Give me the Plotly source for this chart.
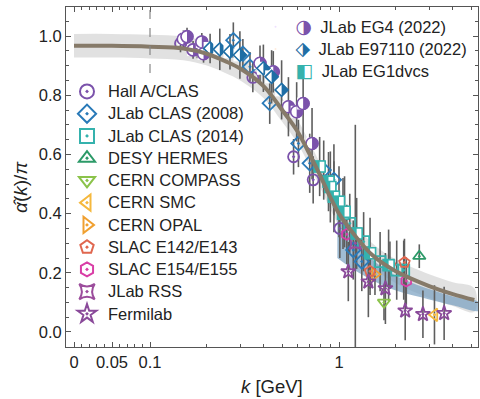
import numpy as np
import plotly.graph_objects as go

# ---------------- data (k in GeV, alpha/pi) ----------------
curve_k = [0.0, 0.05, 0.1, 0.15, 0.2, 0.25, 0.3, 0.4, 0.5, 0.6, 0.7, 0.8, 0.9, 1.0, 1.2, 1.5, 2.0, 3.0, 4.0, 5.2]
curve_v = [0.967, 0.967, 0.964, 0.958, 0.94, 0.915, 0.89, 0.83, 0.75, 0.68, 0.60, 0.525, 0.455, 0.40, 0.33, 0.26, 0.205, 0.155, 0.128, 0.108]
band_halfwidth = 0.04

blue_k = [0.98, 1.2, 1.5, 2.0, 3.0, 4.0, 5.5]
blue_hi = [0.40, 0.31, 0.245, 0.19, 0.145, 0.12, 0.10]
blue_lo = [0.25, 0.21, 0.175, 0.14, 0.11, 0.09, 0.072]

dash_k = 0.1
dash_v_low = 0.875

hall_k = [0.145, 0.178, 0.35, 0.575, 0.73, 1.01]
hall_v = [0.975, 0.955, 0.86, 0.592, 0.514, 0.35]
hall_e = [0.03, 0.03, 0.05, 0.06, 0.08, 0.10]

clas08_k = [0.276, 0.31, 0.338, 0.43, 0.61, 0.70, 0.83, 0.94, 1.19, 1.32]
clas08_v = [0.986, 0.94, 0.896, 0.773, 0.637, 0.57, 0.547, 0.514, 0.277, 0.238]
clas08_e = [0.06, 0.05, 0.05, 0.07, 0.08, 0.10, 0.10, 0.12, 0.10, 0.10]

clas14_k = [1.14, 1.35, 1.65, 2.02, 2.2]
clas14_v = [0.367, 0.305, 0.238, 0.209, 0.209]
clas14_e = [0.10, 0.10, 0.10, 0.10, 0.10]

hermes_k = [2.66]
hermes_v = [0.256]
hermes_e = [0.04]

compass_k = [1.73]
compass_v = [0.10]
compass_e = [0.06]

smc_k = [3.2]
smc_v = [0.058]
smc_e = [0.10]

opal_k = [1.55]
opal_v = [0.195]
opal_e = [0.07]

e142_k = [1.46, 1.86, 2.22]
e142_v = [0.205, 0.226, 0.235]
e142_e = [0.08, 0.08, 0.08]

e154_k = [1.10, 2.27]
e154_v = [0.33, 0.172]
e154_e = [0.10, 0.08]

rss_k = [1.22]
rss_v = [0.30]
rss_e = [0.40]

fermi_k = [1.12, 1.43, 1.76, 2.24, 2.78, 3.6]
fermi_v = [0.204, 0.17, 0.147, 0.072, 0.06, 0.063]
fermi_e = [0.10, 0.12, 0.12, 0.10, 0.08, 0.09]

eg4_k = [0.15, 0.157, 0.169, 0.188, 0.192, 0.382, 0.449, 0.54, 0.597, 0.646, 0.72]
eg4_v = [0.99, 0.998, 0.953, 0.98, 0.94, 0.908, 0.879, 0.761, 0.744, 0.772, 0.637]
eg4_e = [0.03, 0.03, 0.03, 0.03, 0.03, 0.06, 0.07, 0.10, 0.10, 0.12, 0.12]

e97_k = [0.208, 0.234, 0.265, 0.299, 0.398, 0.44, 0.497]
e97_v = [0.958, 0.955, 0.947, 0.936, 0.891, 0.862, 0.818]
e97_e = [0.05, 0.07, 0.06, 0.08, 0.08, 0.09, 0.10]

dvcs_k = [0.79, 0.88, 0.90, 0.94, 1.0, 1.05, 1.07, 1.24, 1.46, 1.83]
dvcs_v = [0.559, 0.508, 0.49, 0.457, 0.44, 0.40, 0.406, 0.333, 0.266, 0.226]
dvcs_e = [0.10, 0.10, 0.12, 0.12, 0.12, 0.12, 0.12, 0.12, 0.12, 0.12]

x_tick_k = [0, 0.05, 0.1, 1]
x_tick_text = ["0", "0.05", "0.1", "1"]
x_minor_k = [0.01, 0.02, 0.03, 0.04, 0.06, 0.07, 0.08, 0.09,
             0.2, 0.3, 0.4, 0.5, 0.6, 0.7, 0.8, 0.9, 2, 3, 4, 5]
y_tick_v = [0.0, 0.2, 0.4, 0.6, 0.8, 1.0]
y_tick_text = ["0.0", "0.2", "0.4", "0.6", "0.8", "1.0"]

# ---------------- axis transform: linear below 0.1 GeV, log above ----------------
LIN_SLOPE = 4.021


def X(k):
    k = np.asarray(k, dtype=float)
    return np.where(k >= 0.1, np.log10(np.maximum(k, 1e-9) / 0.1), (k - 0.1) * LIN_SLOPE)


FONT = "Liberation Sans, Arial, sans-serif"
ERR_COLOR = "#5e5e5e"
LEG_TEXT = '<span style="font-size:16.5px">{}</span>'

fig = go.Figure()

ck = X(curve_k)
cv = np.array(curve_v)
fig.add_trace(go.Scatter(x=np.concatenate([ck, ck[::-1]]),
                         y=np.concatenate([cv + band_halfwidth, (cv - band_halfwidth)[::-1]]),
                         fill="toself", fillcolor="rgba(200,200,200,0.55)", line=dict(width=0, shape="spline"),
                         mode="lines", hoverinfo="skip", showlegend=False))
bk = X(blue_k)
fig.add_trace(go.Scatter(x=np.concatenate([bk, bk[::-1]]),
                         y=np.concatenate([blue_hi, blue_lo[::-1]]),
                         fill="toself", fillcolor="rgba(120,160,192,0.7)", line=dict(width=0, shape="spline"),
                         mode="lines", hoverinfo="skip", showlegend=False))

series = [
    ("Hall A/CLAS", hall_k, hall_v, hall_e, "circle-open-dot", "#7b52ab"),
    ("JLab CLAS (2008)", clas08_k, clas08_v, clas08_e, "diamond-open-dot", "#2a7ab8"),
    ("JLab CLAS (2014)", clas14_k, clas14_v, clas14_e, "square-open-dot", "#35b2ad"),
    ("DESY HERMES", hermes_k, hermes_v, hermes_e, "triangle-up-open-dot", "#2c9a68"),
    ("CERN COMPASS", compass_k, compass_v, compass_e, "triangle-down-open-dot", "#8bc34a"),
    ("CERN SMC", smc_k, smc_v, smc_e, "triangle-left-open-dot", "#f5b83d"),
    ("CERN OPAL", opal_k, opal_v, opal_e, "triangle-right-open-dot", "#f0a030"),
    ("SLAC E142/E143", e142_k, e142_v, e142_e, "pentagon-open-dot", "#e0674f"),
    ("SLAC E154/E155", e154_k, e154_v, e154_e, "hexagon-open-dot", "#d93ea6"),
    ("JLab RSS", rss_k, rss_v, rss_e, "star-square-open-dot", "#9c4d9c"),
    ("Fermilab", fermi_k, fermi_v, fermi_e, "star-open-dot", "#8a4a9a"),
]
# half-filled series: base symbol, colour, marker size, half-width factor of symbol, white side
half_series = [
    ("JLab EG4 (2022)", eg4_k, eg4_v, eg4_e, "circle", "#7b52ab", 12, 1.0, "left", "\u25D1"),
    ("JLab E97110 (2022)", e97_k, e97_v, e97_e, "diamond", "#1f6ea5", 10, 1.3, "left", "\u2B17"),
    ("JLab EG1dvcs", dvcs_k, dvcs_v, dvcs_e, "square", "#35b2ad", 11, 1.0, "right", "\u25E7"),
]

# error bars
for s in series + half_series:
    k, v, e = s[1], s[2], s[3]
    fig.add_trace(go.Scatter(x=X(k), y=v, mode="markers",
                             marker=dict(size=1, color="rgba(0,0,0,0)"),
                             error_y=dict(type="data", array=e, color=ERR_COLOR, thickness=1.6, width=0),
                             hoverinfo="skip", showlegend=False))

# open-dot markers
for name, k, v, e, sym, col in series:
    fig.add_trace(go.Scatter(x=X(k), y=v, mode="markers",
                             marker=dict(symbol=sym, size=11, color=col, line=dict(color=col, width=1.8)),
                             name=name, showlegend=False, hoverinfo="skip"))

# half-filled markers: filled symbol, white bar hiding one half, outline on top (per point)
for name, k, v, e, sym, col, size, hw, side, glyph in half_series:
    R = size / 2 * hw
    ang = 90 if side == "left" else -90
    xs = X(k)
    for xi, vi in zip(xs, v):
        fig.add_trace(go.Scatter(x=[xi], y=[vi], mode="markers",
                                 marker=dict(symbol=sym, size=size, color=col, line=dict(color=col, width=1)),
                                 showlegend=False, hoverinfo="skip"))
        fig.add_trace(go.Scatter(x=[xi], y=[vi], mode="markers",
                                 marker=dict(symbol="line-ew", size=2 * R / 1.4, angle=ang, standoff=R / 2,
                                             line=dict(color="white", width=R)),
                                 showlegend=False, hoverinfo="skip"))
        fig.add_trace(go.Scatter(x=[xi], y=[vi], mode="markers",
                                 marker=dict(symbol=sym + "-open", size=size, color=col,
                                             line=dict(color=col, width=1.6)),
                                 showlegend=False, hoverinfo="skip"))

fig.add_trace(go.Scatter(x=ck, y=cv, mode="lines", line=dict(color="#867a69", width=4, shape="spline"),
                         hoverinfo="skip", showlegend=False))

# legend entries
for name, k, v, e, sym, col in series:
    fig.add_trace(go.Scatter(x=[None], y=[None], mode="markers",
                             marker=dict(symbol=sym, size=14, color=col, line=dict(color=col, width=2)),
                             name=LEG_TEXT.format(name), legend="legend", showlegend=True))
for name, k, v, e, sym, col, size, hw, side, glyph in half_series:
    label = ('<span style="font-family:DejaVu Sans;font-size:19px;color:{c}">{g}</span>'
             '\u00a0\u00a0<span style="font-size:16.5px">{n}</span>').format(c=col, g=glyph, n=name)
    fig.add_trace(go.Scatter(x=[None], y=[None], mode="markers",
                             marker=dict(size=1, opacity=0), name=label, legend="legend2", showlegend=True))

fig.add_shape(type="line", xref="x", yref="y", x0=float(X(dash_k)), x1=float(X(dash_k)),
              y0=dash_v_low, y1=1.098, line=dict(color="#888888", width=1.2, dash="dash"))

x_range = [(66 - 150) / 189, (478 - 150) / 189]

fig.add_annotation(text="<i>α̂</i>(<i>k</i>)/<i>π</i>", xref="paper", yref="paper",
                   x=-0.11, y=0.47, xanchor="center", yanchor="middle", textangle=-90, showarrow=False,
                   font=dict(family=FONT, size=19, color="#222"))
fig.add_annotation(text="<i>k</i> [GeV]", xref="paper", yref="paper",
                   x=0.5, y=-0.153, xanchor="center", yanchor="bottom", showarrow=False,
                   font=dict(family=FONT, size=18.5, color="#222"))

fig.update_layout(
    width=480, height=399,
    margin=dict(l=66, r=2, t=7, b=52),
    paper_bgcolor="white", plot_bgcolor="white",
    font=dict(family=FONT, size=16, color="#222"),
    legend=dict(x=0.0, y=0.799, xanchor="left", yanchor="top", bgcolor="rgba(0,0,0,0)",
                font=dict(family=FONT, size=14.8, color="#222"), itemwidth=32, tracegroupgap=0),
    legend2=dict(x=0.46, y=0.989, xanchor="left", yanchor="top", bgcolor="rgba(0,0,0,0)",
                 font=dict(family=FONT, size=14.8, color="#222"), itemwidth=30),
    xaxis=dict(range=x_range, showgrid=False, zeroline=False, showline=True, linecolor="#555", linewidth=1,
               mirror="ticks", ticks="inside", ticklen=5, tickcolor="#555",
               tickmode="array", tickvals=X(x_tick_k).tolist(), ticktext=x_tick_text,
               tickfont=dict(family=FONT, size=16.5, color="#222"),
               minor=dict(tickmode="array", tickvals=X(x_minor_k).tolist(), ticks="inside", ticklen=3,
                          tickcolor="#555")),
    yaxis=dict(range=[-0.0507, 1.098], showgrid=False, zeroline=False, showline=True, linecolor="#555",
               linewidth=1, mirror="ticks", ticks="inside", ticklen=5, tickcolor="#555",
               tickmode="array", tickvals=y_tick_v, ticktext=y_tick_text,
               tickfont=dict(family=FONT, size=16.5, color="#222"),
               minor=dict(dtick=0.05, tick0=0, ticks="inside", ticklen=3, tickcolor="#555")),
)

fig.write_html("out.html", config={"displayModeBar": False},
               post_script="document.body.style.margin='0px';document.body.style.overflow='hidden';")
